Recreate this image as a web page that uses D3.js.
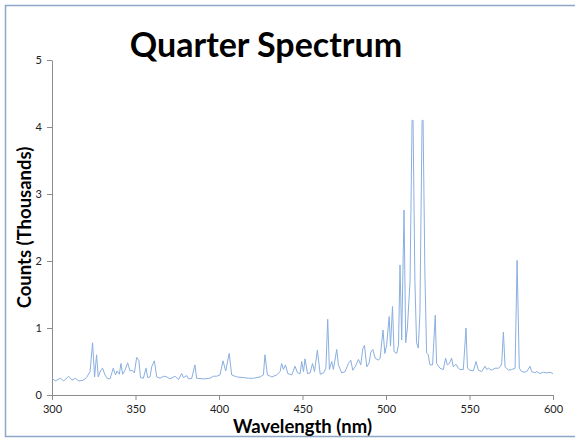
<!DOCTYPE html>
<html>
<head>
<meta charset="utf-8">
<script src="https://cdn.jsdelivr.net/npm/d3@7"></script>
<style>
  body { margin: 0; background: #fff; }
  svg { display: block; }
</style>
</head>
<body>
<div id="container"></div>
<script>
/* CONSTANTS AND GLOBALS */
const width = 575,
      height = 438,
      margin = { top: 60, right: 22, bottom: 43, left: 52 };

/* DATA */
// wavelength in nm
const wavelengths = [
  300, 302, 305, 307, 310, 312, 314, 316, 318.6, 320.7,
  322.8, 324.3, 325.5, 326.7, 327.7, 329, 330.3, 331.7, 333, 334.7,
  336.7, 338, 339, 340.3, 341.3, 342.3, 343.7, 345.3, 346.7, 348,
  349.3, 350.7, 352, 353, 354.7, 356.3, 357.3, 358.7, 359.7, 361.3,
  362.7, 364.7, 366.7, 368.7, 370.7, 373.7, 375.7, 377.7, 378.7, 380.7,
  381.7, 383.7, 385.6, 386.6, 390.6, 394.6, 396.6, 398.6, 400.6, 402.4,
  404, 406.1, 407.6, 410.6, 414.6, 417.6, 420.6, 424.6, 426.6, 427.5,
  429, 431.6, 434.6, 436.6, 437.5, 438.6, 439.8, 441.2, 443.6, 445.5,
  447, 448.6, 449.5, 450.6, 451.5, 453, 454.6, 456, 457.2, 458.9,
  460.6, 462.6, 464, 465.1, 466.1, 467.5, 468.5, 470.5, 471.5, 473.5,
  475.5, 477.5, 478.9, 480.1, 481.5, 483.5, 484.9, 486.1, 487.1, 488.5,
  489.9, 490.9, 492.1, 493.5, 495.5, 496.5, 498.2, 499.3, 500.4, 501.9,
  502.7, 503.9, 504.8, 506.4, 507.5, 508.4, 509.4, 510.8, 511.8, 512.8,
  514.4, 515.6, 516.2, 517.3, 518.3, 519.3, 520.3, 521.6, 522.2, 523.3,
  524.3, 525.3, 526.3, 527.9, 529.5, 530.3, 532.3, 534.3, 535.7, 536.7,
  537.9, 539.3, 540.3, 541.9, 543.3, 544.3, 546.3, 547.9, 548.8, 550.3,
  552.3, 553.9, 555.3, 557.3, 559.3, 560.3, 561.3, 563.3, 565.3, 567.3,
  568.7, 569.3, 570.3, 571.3, 573.3, 575.3, 577.3, 578.5, 579.8, 581.2,
  583.2, 584.6, 586.2, 587.2, 589.2, 590.2, 592.2, 594.2, 596.2, 598.2,
  600
];
// counts in thousands
const counts = [
  0.25, 0.21, 0.25, 0.21, 0.28, 0.22, 0.25, 0.21, 0.22, 0.26,
  0.35, 0.78, 0.27, 0.60, 0.27, 0.36, 0.40, 0.30, 0.25, 0.24,
  0.40, 0.30, 0.36, 0.31, 0.47, 0.31, 0.37, 0.48, 0.36, 0.37,
  0.33, 0.56, 0.52, 0.26, 0.25, 0.40, 0.26, 0.27, 0.42, 0.51,
  0.27, 0.25, 0.28, 0.27, 0.24, 0.28, 0.23, 0.32, 0.26, 0.29,
  0.24, 0.25, 0.45, 0.25, 0.24, 0.25, 0.28, 0.28, 0.30, 0.51,
  0.36, 0.62, 0.30, 0.27, 0.26, 0.25, 0.25, 0.27, 0.30, 0.60,
  0.30, 0.27, 0.30, 0.35, 0.47, 0.38, 0.45, 0.32, 0.30, 0.43,
  0.33, 0.32, 0.50, 0.35, 0.54, 0.32, 0.33, 0.47, 0.35, 0.67,
  0.31, 0.33, 0.40, 1.13, 0.38, 0.50, 0.38, 0.68, 0.45, 0.33,
  0.35, 0.47, 0.52, 0.37, 0.42, 0.53, 0.45, 0.69, 0.74, 0.42,
  0.48, 0.64, 0.68, 0.55, 0.52, 0.55, 0.97, 0.62, 0.75, 1.17,
  0.73, 1.32, 0.65, 0.62, 0.75, 1.94, 0.82, 2.76, 0.78, 1.00,
  1.70, 4.10, 4.10, 1.70, 0.78, 0.70, 1.20, 4.10, 4.10, 1.80,
  0.63, 0.60, 0.45, 0.45, 1.19, 0.47, 0.40, 0.38, 0.55, 0.45,
  0.47, 0.55, 0.42, 0.46, 0.40, 0.38, 0.38, 1.00, 0.40, 0.37,
  0.36, 0.50, 0.37, 0.35, 0.43, 0.38, 0.40, 0.37, 0.40, 0.40,
  0.43, 0.48, 0.94, 0.42, 0.37, 0.38, 0.40, 2.01, 0.40, 0.35,
  0.34, 0.36, 0.43, 0.35, 0.33, 0.35, 0.32, 0.34, 0.33, 0.34,
  0.32
];
const xTicks = [300, 350, 400, 450, 500, 550, 600];
const yTicks = [0, 1, 2, 3, 4, 5];

const data = wavelengths.map((w, i) => ({ w: w, v: counts[i] }));

/* SVG */
const svg = d3.select("#container")
  .append("svg")
  .attr("width", width)
  .attr("height", height);

// slide frame
svg.append("rect")
  .attr("x", 5.5)
  .attr("y", 5.5)
  .attr("width", width + 10)
  .attr("height", 431)
  .attr("fill", "none")
  .attr("stroke", "#8ea6c8")
  .attr("stroke-width", 1.5);

/* SCALES */
const xScale = d3.scaleLinear()
  .domain([300, 600])
  .range([margin.left, width - margin.right]);

const yScale = d3.scaleLinear()
  .domain([0, 5])
  .range([height - margin.bottom, margin.top]);

/* AXES */
const xAxis = d3.axisBottom(xScale)
  .tickValues(xTicks)
  .tickFormat(d3.format("d"))
  .tickSize(5)
  .tickSizeOuter(0)
  .tickPadding(5);

const yAxis = d3.axisLeft(yScale)
  .tickValues(yTicks)
  .tickFormat(d3.format("d"))
  .tickSize(5)
  .tickSizeOuter(0)
  .tickPadding(5);

const gx = svg.append("g")
  .attr("transform", `translate(0, ${height - margin.bottom})`)
  .call(xAxis);

const gy = svg.append("g")
  .attr("transform", `translate(${margin.left}, 0)`)
  .call(yAxis);

[gx, gy].forEach(g => {
  g.selectAll("path, line").attr("stroke", "#8c8c8c");
  g.selectAll("text")
    .attr("fill", "#222")
    .style("font-family", "Lato, 'Open Sans', sans-serif")
    .style("font-size", "11px");
});

/* LINE */
const line = d3.line()
  .x(d => xScale(d.w))
  .y(d => yScale(d.v));

svg.append("path")
  .datum(data)
  .attr("fill", "none")
  .attr("stroke", "#8aafe0")
  .attr("stroke-width", 1)
  .attr("stroke-linejoin", "round")
  .attr("d", line);

/* TITLES */
svg.append("text")
  .attr("x", 266)
  .attr("y", 57)
  .attr("text-anchor", "middle")
  .style("font-family", "Lato, 'Open Sans', sans-serif")
  .style("font-weight", "bold")
  .style("font-size", "34px")
  .text("Quarter Spectrum");

svg.append("text")
  .attr("x", (xScale(300) + xScale(600)) / 2)
  .attr("y", 433)
  .attr("text-anchor", "middle")
  .style("font-family", "Lato, 'Open Sans', sans-serif")
  .style("font-weight", "bold")
  .style("font-size", "18.5px")
  .text("Wavelength (nm)");

svg.append("text")
  .attr("transform", `translate(31, ${(yScale(0) + yScale(5)) / 2}) rotate(-90)`)
  .attr("text-anchor", "middle")
  .style("font-family", "Lato, 'Open Sans', sans-serif")
  .style("font-weight", "bold")
  .style("font-size", "18.5px")
  .text("Counts (Thousands)");
</script>
</body>
</html>
